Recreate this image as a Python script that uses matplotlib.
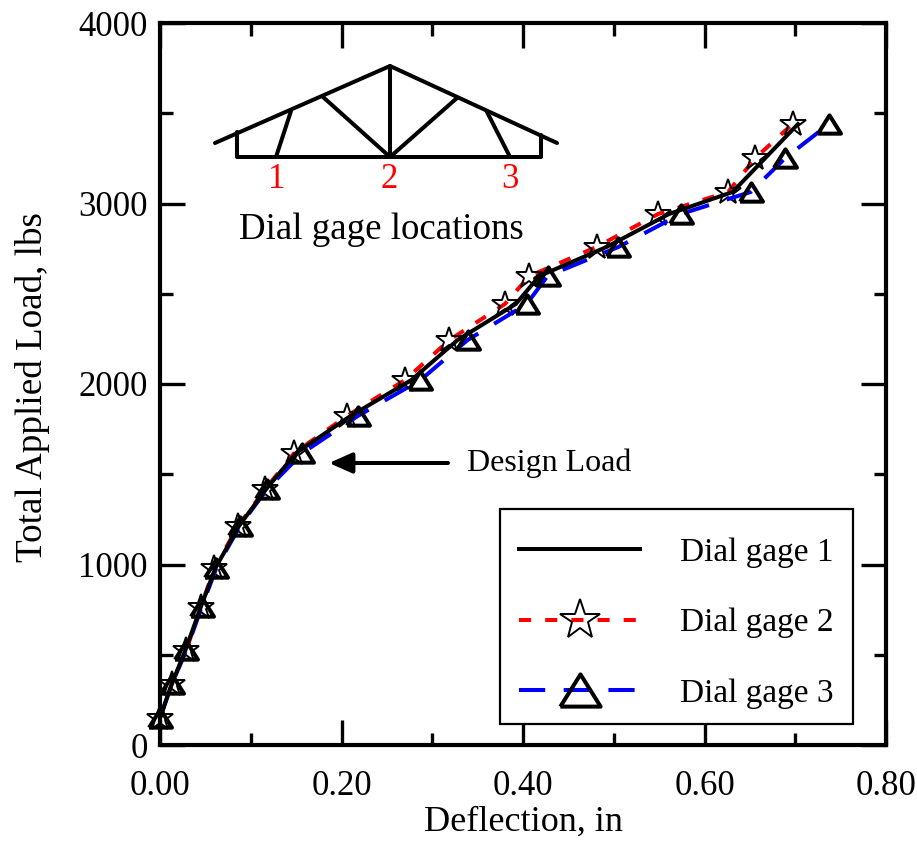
import matplotlib
matplotlib.use("Agg")
import matplotlib.pyplot as plt
from matplotlib.lines import Line2D
from matplotlib.patches import Rectangle

plt.rcParams['font.family'] = ['Liberation Serif', 'DejaVu Serif']

W, H = 917, 842

load = [150, 338, 526, 765, 980, 1213, 1418, 1618, 1823, 2022, 2244, 2443,
        2598, 2759, 2942, 3064, 3252, 3440]
gage1 = [0, .013, .028, .045, .061, .087, .117, .150, .210, .277, .328, .392,
         .418, .492, .561, .631, .667, .703]
gage2 = [0, .013, .029, .045, .060, .086, .116, .148, .206, .270, .319, .380,
         .407, .481, .549, .626, .656, .697]
gage3 = [0, .013, .029, .046, .062, .088, .118, .157, .218, .287, .339, .404,
         .427, .505, .574, .651, .689, .737]

x_ticks = [0, .2, .4, .6, .8]
x_labels = ['0.00', '0.20', '0.40', '0.60', '0.80']
y_ticks = [0, 1000, 2000, 3000, 4000]

# truss sketch, picture pixels
truss = [
    [(215, 143), (390, 66), (557, 143)],
    [(237, 132), (237, 157), (541, 157), (541, 135)],
    [(390, 66), (390, 157)],
    [(291, 111), (276, 157)],
    [(323, 97), (390, 157), (457, 98)],
    [(487, 112), (510, 157)],
]
gage_marks = [(277, '1'), (389, '2'), (510, '3')]

# wider than tall, like the reference triangles
tri = [(-1, -0.8), (1, -0.8), (0, 0.8), (-1, -0.8)]


def fx(px):
    return px / W


def fy(py):
    return 1 - py / H


fig = plt.figure(figsize=(W / 100, H / 100), dpi=100)
ax = fig.add_axes([fx(160), fy(745), (886 - 160) / W, (745 - 23) / H])
ax.set_xlim(0, 0.8)
ax.set_ylim(0, 4000)
ax.patch.set_alpha(0)

lw = 2.9
ax.plot(gage2, load, color='red', lw=lw, dashes=(3, 3.5), marker='*', ms=19,
        mfc='none', mec='black', mew=1.4, clip_on=False)
ax.plot(gage3, load, color='blue', lw=lw, dashes=(6.5, 4.6), marker=tri, ms=16.5,
        mfc='none', mec='black', mew=2.9, clip_on=False)
ax.plot(gage1, load, color='black', lw=lw)

for s in ax.spines.values():
    s.set_linewidth(3)

ax.set_xticks(x_ticks)
ax.set_xticklabels(x_labels)
ax.set_yticks(y_ticks)
ax.set_xticks([.1, .3, .5, .7], minor=True)
ax.set_yticks([500, 1500, 2500, 3500], minor=True)
ax.tick_params(which='major', direction='in', length=18, width=2.4, top=True, right=True,
               labelsize=25)
ax.tick_params(which='minor', direction='in', length=9, width=2.4, top=True, right=True)
ax.tick_params(axis='x', pad=18)
ax.tick_params(axis='y', pad=9)
ax.set_xlabel('Deflection, in', fontsize=26, va='center')
ax.xaxis.set_label_coords((523 - 160) / 726, -(822 - 745) / 722)
ax.set_ylabel('Total Applied Load, lbs', fontsize=26.7, va='center')
ax.yaxis.set_label_coords((33 - 160) / 726, (745 - 387) / 722)

for seg in truss:
    xs = [fx(p[0]) for p in seg]
    ys = [fy(p[1]) for p in seg]
    fig.add_artist(Line2D(xs, ys, color='black', lw=lw, solid_capstyle='round'))
for px, lab in gage_marks:
    fig.text(fx(px), fy(180), lab, color='red', fontsize=25, ha='center', va='center')
fig.text(fx(381), fy(230), 'Dial gage locations', fontsize=26.6, ha='center', va='center')

ax.annotate('', xy=(fx(329), fy(463)), xytext=(fx(448), fy(463)), xycoords='figure fraction',
            textcoords='figure fraction',
            arrowprops=dict(arrowstyle='-|>,head_length=1.4,head_width=0.62', lw=lw, color='black',
                            shrinkA=0, shrinkB=0))
fig.text(fx(467), fy(463), 'Design Load', fontsize=23, ha='left', va='center')

# legend box
ax.add_patch(Rectangle((fx(500), fy(724)), (853 - 500) / W, (724 - 509) / H, transform=fig.transFigure,
                       fc='white', ec='black', lw=1.6, zorder=4, clip_on=False))
handles = [
    Line2D([], [], color='black', lw=lw),
    Line2D([], [], color='red', lw=lw, dashes=(3, 3.5), marker='*', ms=30, mfc='none',
           mec='black', mew=1.4),
    Line2D([], [], color='blue', lw=lw, dashes=(6.5, 4.6), marker=tri, ms=29, mfc='none',
           mec='black', mew=2.9),
]
ax.legend(handles, ['Dial gage 1', 'Dial gage 2', 'Dial gage 3'], fontsize=24,
          loc='lower left', bbox_to_anchor=(fx(519), fy(709)), bbox_transform=fig.transFigure,
          borderaxespad=0, frameon=False, borderpad=0,
          handlelength=3.63, handletextpad=1.21, labelspacing=1.2)

fig.savefig('out.png', dpi=100)
